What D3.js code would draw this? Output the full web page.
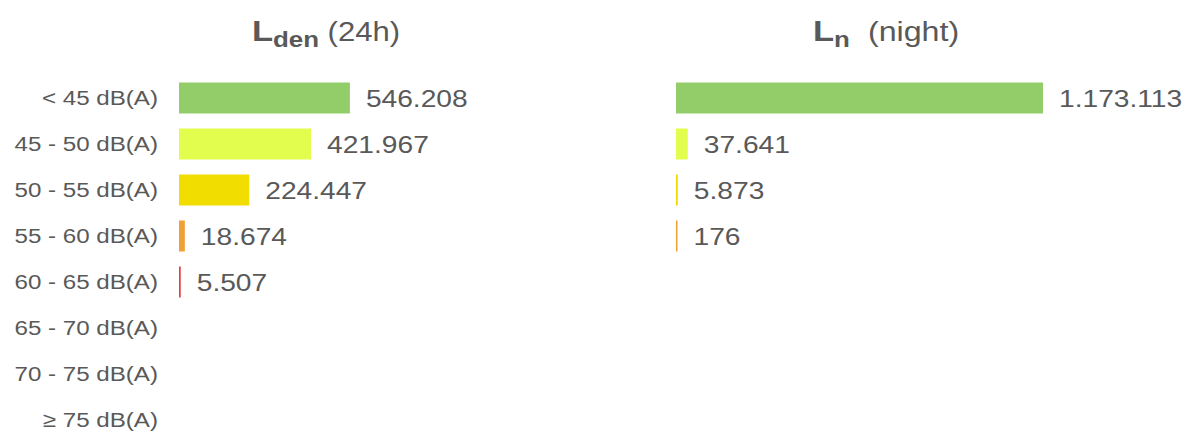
<!DOCTYPE html>
<html>
<head>
<meta charset="utf-8">
<script src="https://cdn.jsdelivr.net/npm/d3@7"></script>
<style>
  html, body { margin: 0; padding: 0; background: #fff; }
  svg { display: block; font-family: "Liberation Sans", Arial, sans-serif; }
</style>
</head>
<body>
<svg id="chart" width="1192" height="432"></svg>
<script>
const categories = ["< 45 dB(A)", "45 - 50 dB(A)", "50 - 55 dB(A)", "55 - 60 dB(A)", "60 - 65 dB(A)", "65 - 70 dB(A)", "70 - 75 dB(A)", "≥ 75 dB(A)"];
const ldenValues = [546208, 421967, 224447, 18674, 5507, null, null, null];
const nightValues = [1173113, 37641, 5873, 176, null, null, null, null];
const bandColors = ["#92cd69", "#e2fd4d", "#f2dd00", "#f0a135", "#e0413f", "#c0392b", "#8e1b1b", "#5c0f0f"];
const titleMain = ["L", "L"];
const titleSub = ["den", "n"];
const titleRest = [" (24h)", " (night)"];

const fmt = v => d3.format(",")(v).replace(/,/g, ".");
const TEXT = "#595959";
const SX = 1.15; // horizontal widening of the reference's typeface

const svg = d3.select("#chart");
const x = d3.scaleLinear().domain([0, 1173113]).range([0, 367]);
const y = d3.scaleBand().domain(categories).range([75, 443]).paddingInner(0.326).paddingOuter(0.163);

const panels = [
  { values: ldenValues, x0: 179, titleX: 326, ti: 0, restSize: 27, restDx: 0, labels: true },
  { values: nightValues, x0: 676, titleX: 886, ti: 1, restSize: 28, restDx: 8, labels: false }
];

panels.forEach(p => {
  const g = svg.append("g");
  // title
  const t = g.append("text")
    .attr("transform", `translate(${p.titleX},41) scale(${SX},1)`)
    .attr("text-anchor", "middle")
    .attr("fill", TEXT);
  t.append("tspan").attr("font-size", 30).attr("font-weight", "bold").text(titleMain[p.ti]);
  t.append("tspan").attr("font-size", 22.5).attr("font-weight", "bold").attr("dy", 6).text(titleSub[p.ti]);
  t.append("tspan").attr("font-size", p.restSize).attr("dy", -6).attr("dx", p.restDx).text(titleRest[p.ti]);

  if (p.labels) {
    g.selectAll("text.cat").data(categories).join("text")
      .attr("class", "cat")
      .attr("transform", d => `translate(158,${y(d) + y.bandwidth() / 2 + 7}) scale(${SX},1)`)
      .attr("text-anchor", "end")
      .attr("font-size", 21)
      .attr("fill", TEXT)
      .text(d => d);
  }

  const rows = categories.map((c, i) => ({ c, v: p.values[i], color: bandColors[i] })).filter(d => d.v != null);
  g.selectAll("rect").data(rows).join("rect")
    .attr("x", p.x0)
    .attr("y", d => y(d.c))
    .attr("height", y.bandwidth())
    .attr("width", d => Math.max(x(d.v), 1.5))
    .attr("fill", d => d.color);

  g.selectAll("text.val").data(rows).join("text")
    .attr("class", "val")
    .attr("transform", d => `translate(${p.x0 + Math.max(x(d.v), 1.5) + 16},${y(d.c) + y.bandwidth() / 2 + 9}) scale(${SX},1)`)
    .attr("font-size", 24.5)
    .attr("fill", TEXT)
    .text(d => fmt(d.v));
});
</script>
</body>
</html>
